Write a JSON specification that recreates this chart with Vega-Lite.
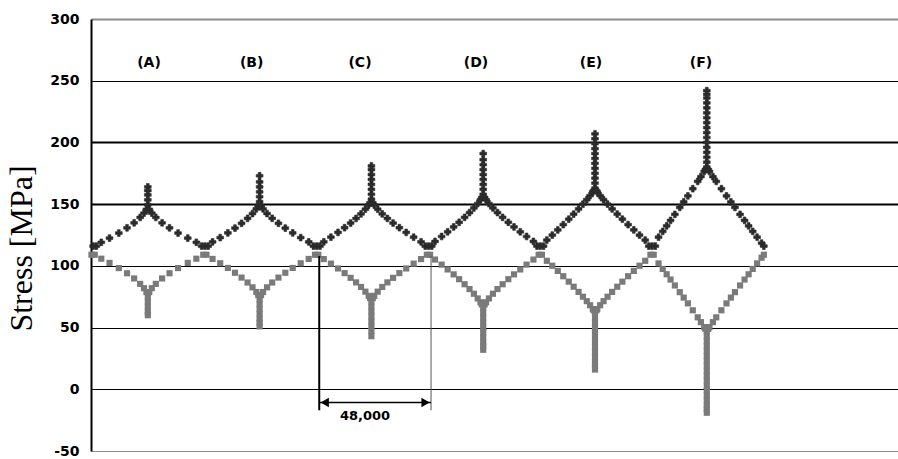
{
  "$schema": "https://vega.github.io/schema/vega-lite/v6.json",
  "width": 807,
  "height": 432,
  "autosize": {"type": "none"},
  "padding": {"left": 91, "top": 19, "right": 0, "bottom": 8},
  "background": "white",
  "config": {"view": {"stroke": null}},
  "datasets": {
    "upper": [
      {"n": 900, "s": 116}, {"n": 2300, "s": 116},
      {"n": 4425, "s": 119.1}, {"n": 7950, "s": 122.5}, {"n": 11945, "s": 126.6}, {"n": 15470, "s": 130.8}, {"n": 18525, "s": 134.9}, {"n": 21110, "s": 139.2}, {"n": 22755, "s": 142.7}, {"n": 23810, "s": 145.8},
      {"n": 24400, "s": 149.5}, {"n": 24400, "s": 153.5}, {"n": 24400, "s": 157.5}, {"n": 24400, "s": 161}, {"n": 24400, "s": 164},
      {"n": 25010, "s": 145.8}, {"n": 26115, "s": 142.7}, {"n": 27830, "s": 139.2}, {"n": 30525, "s": 134.9}, {"n": 33710, "s": 130.8}, {"n": 37385, "s": 126.6}, {"n": 41550, "s": 122.5}, {"n": 45225, "s": 119.1},
      {"n": 47500, "s": 116}, {"n": 48900, "s": 116}, {"n": 50300, "s": 116},
      {"n": 52190, "s": 119.4}, {"n": 55480, "s": 122.9}, {"n": 58770, "s": 126.7}, {"n": 61825, "s": 130.6}, {"n": 64645, "s": 134.5}, {"n": 67230, "s": 138.5}, {"n": 69345, "s": 142.4}, {"n": 70990, "s": 146.2}, {"n": 71810, "s": 148.7},
      {"n": 72400, "s": 152}, {"n": 72400, "s": 156}, {"n": 72400, "s": 160}, {"n": 72400, "s": 164}, {"n": 72400, "s": 168}, {"n": 72400, "s": 173},
      {"n": 73010, "s": 148.7}, {"n": 73870, "s": 146.2}, {"n": 75585, "s": 142.4}, {"n": 77790, "s": 138.5}, {"n": 80485, "s": 134.5}, {"n": 83425, "s": 130.6}, {"n": 86610, "s": 126.7}, {"n": 90040, "s": 122.9}, {"n": 93470, "s": 119.4},
      {"n": 95500, "s": 116}, {"n": 96900, "s": 116}, {"n": 98300, "s": 116},
      {"n": 99955, "s": 119.5}, {"n": 103010, "s": 123.2}, {"n": 106065, "s": 127.1}, {"n": 108885, "s": 130.9}, {"n": 111470, "s": 134.7}, {"n": 113820, "s": 138.4}, {"n": 115935, "s": 142.1}, {"n": 117815, "s": 145.9}, {"n": 119225, "s": 149.3}, {"n": 119810, "s": 151.1},
      {"n": 120400, "s": 154}, {"n": 120400, "s": 158}, {"n": 120400, "s": 162}, {"n": 120400, "s": 166}, {"n": 120400, "s": 170}, {"n": 120400, "s": 174}, {"n": 120400, "s": 178}, {"n": 120400, "s": 181},
      {"n": 121010, "s": 151.1}, {"n": 121625, "s": 149.3}, {"n": 123095, "s": 145.9}, {"n": 125055, "s": 142.1}, {"n": 127260, "s": 138.4}, {"n": 129710, "s": 134.7}, {"n": 132405, "s": 130.9}, {"n": 135345, "s": 127.1}, {"n": 138530, "s": 123.2}, {"n": 141715, "s": 119.5},
      {"n": 143500, "s": 116}, {"n": 144900, "s": 116}, {"n": 146300, "s": 116},
      {"n": 147720, "s": 119.8}, {"n": 150540, "s": 123.8}, {"n": 153125, "s": 127.6}, {"n": 155710, "s": 131.5}, {"n": 158060, "s": 135.3}, {"n": 160410, "s": 139.3}, {"n": 162525, "s": 143.2}, {"n": 164405, "s": 146.9}, {"n": 166050, "s": 150.5}, {"n": 167225, "s": 153.6}, {"n": 167810, "s": 155.4},
      {"n": 168400, "s": 158}, {"n": 168400, "s": 162}, {"n": 168400, "s": 166}, {"n": 168400, "s": 170}, {"n": 168400, "s": 174}, {"n": 168400, "s": 178}, {"n": 168400, "s": 182}, {"n": 168400, "s": 186}, {"n": 168400, "s": 191},
      {"n": 169010, "s": 155.4}, {"n": 169625, "s": 153.6}, {"n": 170850, "s": 150.5}, {"n": 172565, "s": 146.9}, {"n": 174525, "s": 143.2}, {"n": 176730, "s": 139.3}, {"n": 179180, "s": 135.3}, {"n": 181630, "s": 131.5}, {"n": 184325, "s": 127.6}, {"n": 187020, "s": 123.8}, {"n": 189960, "s": 119.8},
      {"n": 191500, "s": 116}, {"n": 192900, "s": 116}, {"n": 194300, "s": 116},
      {"n": 195720, "s": 120.9}, {"n": 198070, "s": 124.9}, {"n": 200420, "s": 129.1}, {"n": 202770, "s": 133.4}, {"n": 205120, "s": 137.8}, {"n": 207235, "s": 141.9}, {"n": 209350, "s": 146.1}, {"n": 211230, "s": 150.0}, {"n": 212875, "s": 153.6}, {"n": 214285, "s": 156.9}, {"n": 215460, "s": 160.0}, {"n": 215810, "s": 161.0},
      {"n": 216400, "s": 163}, {"n": 216400, "s": 167}, {"n": 216400, "s": 171}, {"n": 216400, "s": 175}, {"n": 216400, "s": 179}, {"n": 216400, "s": 183}, {"n": 216400, "s": 187}, {"n": 216400, "s": 191}, {"n": 216400, "s": 195}, {"n": 216400, "s": 199}, {"n": 216400, "s": 203}, {"n": 216400, "s": 207},
      {"n": 217010, "s": 161.0}, {"n": 217380, "s": 160.0}, {"n": 218605, "s": 156.9}, {"n": 220075, "s": 153.6}, {"n": 221790, "s": 150.0}, {"n": 223750, "s": 146.1}, {"n": 225955, "s": 141.9}, {"n": 228160, "s": 137.8}, {"n": 230610, "s": 133.4}, {"n": 233060, "s": 129.1}, {"n": 235510, "s": 124.9}, {"n": 237960, "s": 120.9},
      {"n": 239500, "s": 116}, {"n": 240900, "s": 116}, {"n": 242300, "s": 116},
      {"n": 243673, "s": 123.2}, {"n": 245482, "s": 127.9}, {"n": 247174, "s": 132.4}, {"n": 248843, "s": 136.8}, {"n": 250699, "s": 141.7}, {"n": 252791, "s": 147.3}, {"n": 254483, "s": 151.8}, {"n": 256292, "s": 156.7}, {"n": 258384, "s": 162.5}, {"n": 260499, "s": 168.4}, {"n": 261885, "s": 172.3}, {"n": 263295, "s": 176.5}, {"n": 263810, "s": 178.1},
      {"n": 264400, "s": 180}, {"n": 264400, "s": 184}, {"n": 264400, "s": 188}, {"n": 264400, "s": 192}, {"n": 264400, "s": 196}, {"n": 264400, "s": 200}, {"n": 264400, "s": 204}, {"n": 264400, "s": 208}, {"n": 264400, "s": 212}, {"n": 264400, "s": 216}, {"n": 264400, "s": 220}, {"n": 264400, "s": 224}, {"n": 264400, "s": 228}, {"n": 264400, "s": 232}, {"n": 264400, "s": 236}, {"n": 264400, "s": 239}, {"n": 264400, "s": 242},
      {"n": 265010, "s": 178.1}, {"n": 265552, "s": 176.5}, {"n": 267022, "s": 172.3}, {"n": 268467, "s": 168.4}, {"n": 270672, "s": 162.5}, {"n": 272853, "s": 156.7}, {"n": 274739, "s": 151.8}, {"n": 276503, "s": 147.3}, {"n": 278684, "s": 141.7}, {"n": 280619, "s": 136.8}, {"n": 282359, "s": 132.4}, {"n": 284123, "s": 127.9}, {"n": 286009, "s": 123.2}, {"n": 287920, "s": 118.4}, {"n": 288900, "s": 116}
    ],
    "lower": [
      {"n": 200, "s": 109}, {"n": 1600, "s": 109},
      {"n": 4425, "s": 105.8}, {"n": 7950, "s": 102.4}, {"n": 11945, "s": 98.2}, {"n": 15470, "s": 94.0}, {"n": 18525, "s": 89.8}, {"n": 21110, "s": 85.4}, {"n": 22755, "s": 81.9}, {"n": 23810, "s": 78.7},
      {"n": 24400, "s": 75}, {"n": 24400, "s": 71}, {"n": 24400, "s": 67}, {"n": 24400, "s": 63}, {"n": 24400, "s": 60},
      {"n": 25010, "s": 78.7}, {"n": 26115, "s": 81.9}, {"n": 27830, "s": 85.4}, {"n": 30525, "s": 89.8}, {"n": 33710, "s": 94.0}, {"n": 37385, "s": 98.2}, {"n": 41550, "s": 102.4}, {"n": 45225, "s": 105.8},
      {"n": 48200, "s": 109}, {"n": 49600, "s": 109},
      {"n": 52190, "s": 105.6}, {"n": 55480, "s": 102.1}, {"n": 58770, "s": 98.3}, {"n": 61825, "s": 94.4}, {"n": 64645, "s": 90.5}, {"n": 67230, "s": 86.5}, {"n": 69345, "s": 82.6}, {"n": 70990, "s": 78.8}, {"n": 71810, "s": 76.3},
      {"n": 72400, "s": 73}, {"n": 72400, "s": 69}, {"n": 72400, "s": 65}, {"n": 72400, "s": 61}, {"n": 72400, "s": 57}, {"n": 72400, "s": 54}, {"n": 72400, "s": 51},
      {"n": 73010, "s": 76.3}, {"n": 73870, "s": 78.8}, {"n": 75585, "s": 82.6}, {"n": 77790, "s": 86.5}, {"n": 80485, "s": 90.5}, {"n": 83425, "s": 94.4}, {"n": 86610, "s": 98.3}, {"n": 90040, "s": 102.1}, {"n": 93470, "s": 105.6},
      {"n": 96200, "s": 109}, {"n": 97600, "s": 109},
      {"n": 99955, "s": 105.5}, {"n": 103010, "s": 101.8}, {"n": 106065, "s": 97.9}, {"n": 108885, "s": 94.1}, {"n": 111470, "s": 90.3}, {"n": 113820, "s": 86.6}, {"n": 115935, "s": 82.9}, {"n": 117815, "s": 79.1}, {"n": 119225, "s": 75.7}, {"n": 119810, "s": 73.9},
      {"n": 120400, "s": 71}, {"n": 120400, "s": 67}, {"n": 120400, "s": 63}, {"n": 120400, "s": 59}, {"n": 120400, "s": 55}, {"n": 120400, "s": 51}, {"n": 120400, "s": 47}, {"n": 120400, "s": 43},
      {"n": 121010, "s": 73.9}, {"n": 121625, "s": 75.7}, {"n": 123095, "s": 79.1}, {"n": 125055, "s": 82.9}, {"n": 127260, "s": 86.6}, {"n": 129710, "s": 90.3}, {"n": 132405, "s": 94.1}, {"n": 135345, "s": 97.9}, {"n": 138530, "s": 101.8}, {"n": 141715, "s": 105.5},
      {"n": 144200, "s": 109}, {"n": 145600, "s": 109},
      {"n": 147720, "s": 105.1}, {"n": 150540, "s": 101.0}, {"n": 153125, "s": 97.1}, {"n": 155710, "s": 93.1}, {"n": 158060, "s": 89.2}, {"n": 160410, "s": 85.1}, {"n": 162525, "s": 81.2}, {"n": 164405, "s": 77.4}, {"n": 166050, "s": 73.6}, {"n": 167225, "s": 70.5}, {"n": 167810, "s": 68.7},
      {"n": 168400, "s": 66}, {"n": 168400, "s": 62}, {"n": 168400, "s": 58}, {"n": 168400, "s": 54}, {"n": 168400, "s": 50}, {"n": 168400, "s": 46}, {"n": 168400, "s": 42}, {"n": 168400, "s": 38}, {"n": 168400, "s": 35}, {"n": 168400, "s": 32},
      {"n": 169010, "s": 68.7}, {"n": 169625, "s": 70.5}, {"n": 170850, "s": 73.6}, {"n": 172565, "s": 77.4}, {"n": 174525, "s": 81.2}, {"n": 176730, "s": 85.1}, {"n": 179180, "s": 89.2}, {"n": 181630, "s": 93.1}, {"n": 184325, "s": 97.1}, {"n": 187020, "s": 101.0}, {"n": 189960, "s": 105.1},
      {"n": 192200, "s": 109}, {"n": 193600, "s": 109},
      {"n": 195720, "s": 104.1}, {"n": 198070, "s": 100.1}, {"n": 200420, "s": 95.9}, {"n": 202770, "s": 91.6}, {"n": 205120, "s": 87.2}, {"n": 207235, "s": 83.1}, {"n": 209350, "s": 78.9}, {"n": 211230, "s": 75.0}, {"n": 212875, "s": 71.4}, {"n": 214285, "s": 68.1}, {"n": 215460, "s": 65.0}, {"n": 215810, "s": 64.0},
      {"n": 216400, "s": 62}, {"n": 216400, "s": 58}, {"n": 216400, "s": 54}, {"n": 216400, "s": 50}, {"n": 216400, "s": 46}, {"n": 216400, "s": 42}, {"n": 216400, "s": 38}, {"n": 216400, "s": 34}, {"n": 216400, "s": 30}, {"n": 216400, "s": 26}, {"n": 216400, "s": 22}, {"n": 216400, "s": 19}, {"n": 216400, "s": 16},
      {"n": 217010, "s": 64.0}, {"n": 217380, "s": 65.0}, {"n": 218605, "s": 68.1}, {"n": 220075, "s": 71.4}, {"n": 221790, "s": 75.0}, {"n": 223750, "s": 78.9}, {"n": 225955, "s": 83.1}, {"n": 228160, "s": 87.2}, {"n": 230610, "s": 91.6}, {"n": 233060, "s": 95.9}, {"n": 235510, "s": 100.1}, {"n": 237960, "s": 104.1},
      {"n": 240200, "s": 109}, {"n": 241600, "s": 109},
      {"n": 243673, "s": 102.0}, {"n": 245482, "s": 97.5}, {"n": 247174, "s": 93.2}, {"n": 248843, "s": 88.9}, {"n": 250699, "s": 84.1}, {"n": 252791, "s": 78.7}, {"n": 254483, "s": 74.3}, {"n": 256292, "s": 69.6}, {"n": 258384, "s": 64.0}, {"n": 260499, "s": 58.3}, {"n": 261885, "s": 54.4}, {"n": 263295, "s": 50.4}, {"n": 263810, "s": 48.9},
      {"n": 264400, "s": 47}, {"n": 264400, "s": 43}, {"n": 264400, "s": 39}, {"n": 264400, "s": 35}, {"n": 264400, "s": 31}, {"n": 264400, "s": 27}, {"n": 264400, "s": 23}, {"n": 264400, "s": 19}, {"n": 264400, "s": 15}, {"n": 264400, "s": 11}, {"n": 264400, "s": 7}, {"n": 264400, "s": 3}, {"n": 264400, "s": -1}, {"n": 264400, "s": -5}, {"n": 264400, "s": -9}, {"n": 264400, "s": -13}, {"n": 264400, "s": -16}, {"n": 264400, "s": -19},
      {"n": 265010, "s": 48.9}, {"n": 265552, "s": 50.4}, {"n": 267022, "s": 54.4}, {"n": 268467, "s": 58.3}, {"n": 270672, "s": 64.0}, {"n": 272853, "s": 69.6}, {"n": 274739, "s": 74.3}, {"n": 276503, "s": 78.7}, {"n": 278684, "s": 84.1}, {"n": 280619, "s": 88.9}, {"n": 282359, "s": 93.2}, {"n": 284123, "s": 97.5}, {"n": 286009, "s": 102.0}, {"n": 287920, "s": 106.6}, {"n": 288900, "s": 109}
    ],
    "cases": [
      {"lab": "(A)", "n": 24900, "s": 264.5},
      {"lab": "(B)", "n": 69000, "s": 264.5},
      {"lab": "(C)", "n": 115500, "s": 264.5},
      {"lab": "(D)", "n": 165300, "s": 264.5},
      {"lab": "(E)", "n": 214700, "s": 264.5},
      {"lab": "(F)", "n": 261900, "s": 264.5}
    ]
  },
  "layer": [
    {
      "data": {"name": "lower"},
      "mark": {"type": "point", "shape": "square", "filled": true, "size": 38, "color": "#7a7a7a", "opacity": 1},
      "encoding": {
        "x": {"field": "n", "type": "quantitative", "scale": {"domain": [0, 346500], "nice": false, "zero": false}, "axis": null},
        "y": {
          "field": "s", "type": "quantitative",
          "scale": {"domain": [-50, 300], "nice": false, "zero": false},
          "axis": {
            "title": "Stress [MPa]",
            "titleFont": "Liberation Serif", "titleFontSize": 32, "titleFontWeight": "normal", "titleColor": "#000000",
            "titleAngle": -90, "titleX": -60, "titleY": 229, "titleAlign": "center", "titleBaseline": "alphabetic",
            "values": [-50, 0, 50, 100, 150, 200, 250, 300],
            "labelExpr": "datum.value < 0 ? '-' + abs(datum.value) : datum.label",
            "labelFont": "DejaVu Sans", "labelFontWeight": "bold", "labelFontSize": 14, "labelColor": "#000000",
            "labelPadding": 12, "ticks": false, "tickSize": 0,
            "domainColor": "#000000", "domainWidth": 2,
            "grid": true,
            "gridColor": {"condition": {"test": "datum.value == 300 || datum.value == -50", "value": "#8c8c8c"}, "value": "#000000"},
            "gridWidth": {"condition": {"test": "datum.value == 300 || datum.value == 200 || datum.value == 150", "value": 2}, "value": 1.2}
          }
        }
      }
    },
    {
      "data": {"name": "upper"},
      "mark": {"type": "point", "shape": "cross", "filled": true, "size": 46, "color": "#2b2b2b", "stroke": "#2b2b2b", "strokeWidth": 0.6, "opacity": 1},
      "encoding": {
        "x": {"field": "n", "type": "quantitative"},
        "y": {"field": "s", "type": "quantitative"}
      }
    },
    {
      "data": {"name": "cases"},
      "mark": {"type": "text", "font": "DejaVu Sans", "fontWeight": "bold", "fontSize": 14, "align": "center", "baseline": "middle", "color": "#000000"},
      "encoding": {
        "x": {"field": "n", "type": "quantitative"},
        "y": {"field": "s", "type": "quantitative"},
        "text": {"field": "lab"}
      }
    },
    {
      "data": {"values": [{"n": 98000, "s": 108, "s2": -17}]},
      "mark": {"type": "rule", "color": "#000000", "strokeWidth": 2},
      "encoding": {
        "x": {"field": "n", "type": "quantitative"},
        "y": {"field": "s", "type": "quantitative"},
        "y2": {"field": "s2"}
      }
    },
    {
      "data": {"values": [{"n": 146000, "s": 108, "s2": -17}]},
      "mark": {"type": "rule", "color": "#555555", "strokeWidth": 1},
      "encoding": {
        "x": {"field": "n", "type": "quantitative"},
        "y": {"field": "s", "type": "quantitative"},
        "y2": {"field": "s2"}
      }
    },
    {
      "data": {"values": [{"n": 98000, "n2": 146000, "s": -10.7}]},
      "mark": {"type": "rule", "color": "#000000", "strokeWidth": 1.5},
      "encoding": {
        "x": {"field": "n", "type": "quantitative"},
        "x2": {"field": "n2"},
        "y": {"field": "s", "type": "quantitative"}
      }
    },
    {
      "data": {"values": [{"n": 98000, "s": -10.7}]},
      "mark": {"type": "point", "shape": "triangle-left", "filled": true, "size": 90, "color": "#000000", "opacity": 1, "xOffset": 5.5},
      "encoding": {
        "x": {"field": "n", "type": "quantitative"},
        "y": {"field": "s", "type": "quantitative"}
      }
    },
    {
      "data": {"values": [{"n": 146000, "s": -10.7}]},
      "mark": {"type": "point", "shape": "triangle-right", "filled": true, "size": 90, "color": "#000000", "opacity": 1, "xOffset": -5.5},
      "encoding": {
        "x": {"field": "n", "type": "quantitative"},
        "y": {"field": "s", "type": "quantitative"}
      }
    },
    {
      "data": {"values": [{"n": 117650, "s": -22, "lab": "48,000"}]},
      "mark": {"type": "text", "font": "DejaVu Sans", "fontWeight": "bold", "fontSize": 13, "align": "center", "baseline": "middle", "color": "#000000"},
      "encoding": {
        "x": {"field": "n", "type": "quantitative"},
        "y": {"field": "s", "type": "quantitative"},
        "text": {"field": "lab"}
      }
    }
  ]
}
